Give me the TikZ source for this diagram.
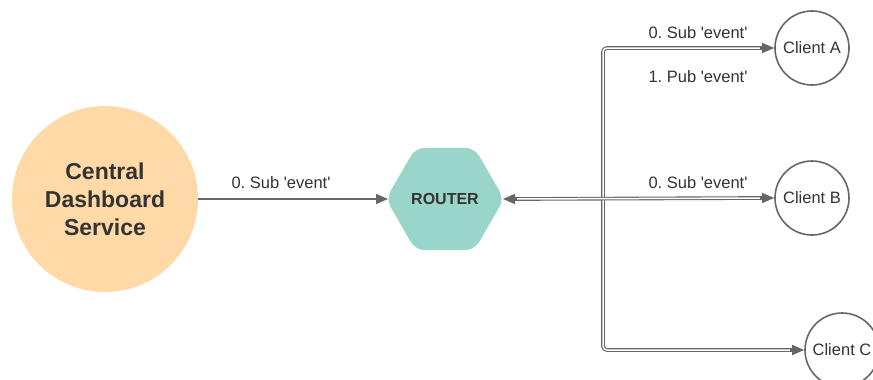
\documentclass[tikz,border=0pt]{standalone}
\usepackage{fontspec}
\setmainfont{Liberation Sans}
\usetikzlibrary{arrows.meta,shapes.geometric}
\definecolor{lineg}{HTML}{666666}
\definecolor{txtg}{HTML}{333333}
\definecolor{peach}{HTML}{FFD9A6}
\definecolor{teal}{HTML}{9AD5CA}
\tikzset{
  lbl/.style={font=\fontsize{16.5}{19}\selectfont, text=txtg, inner sep=0pt},
  client/.style={circle, draw=lineg, line width=1.6pt, minimum size=74pt, inner sep=0pt, font=\fontsize{16.5}{19}\selectfont, text=txtg},
  dbl/.style={draw=lineg, line width=1.1pt, double=white, double distance=1.5pt, rounded corners=4pt},
  tipline/.style={lineg, line width=1.2pt, -{Triangle[length=12pt,width=10pt]}},
}
\begin{document}
\frenchspacing
\begin{tikzpicture}[x=1pt,y=-1pt]
\useasboundingbox (0,0) rectangle (873,380);
\fill[white] (0,0) rectangle (873,380);
% central
\node[circle, fill=peach, minimum size=186pt, inner sep=0pt, align=center,
  font=\bfseries\fontsize{23}{28}\selectfont, text=txtg] (cds) at (105,199) {Central\\Dashboard\\Service};
% router
\node[regular polygon, regular polygon sides=6, fill=teal, minimum size=118pt, inner sep=0pt, rounded corners=9pt] (router) at (445,199) {};
\node[font=\bfseries\fontsize{16}{19}\selectfont, text=txtg] (rlabel) at (445,199) {ROUTER};
% clients
\node[client] (ca) at (812,48) {Client A};
\node[client] (cb) at (812,198) {Client B};
\node[client] (cc) at (842,350) {Client C};
\coordinate (j) at (603,199);
% central -> router
\draw[tipline] (cds.east) -- (388,199);
\node[lbl] (l1) at (281,183) {0. Sub \textquotesingle event\textquotesingle};
% double connectors
\draw[dbl] ([xshift=-12pt]ca.west) -| (j) |- ([xshift=-12pt]cc.west);
\draw[dbl] (515,199) -- ([xshift=-12pt]cb.west);
% arrow tips
\draw[tipline] ([xshift=-14pt]ca.west) -- (ca.west);
\draw[tipline] ([xshift=-14pt]cb.west) -- (cb.west);
\draw[tipline] ([xshift=-14pt]cc.west) -- (cc.west);
\draw[tipline] (517,199) -- (503,199);
% labels
\node[lbl] (l2) at (698,33) {0. Sub \textquotesingle event\textquotesingle};
\node[lbl] (l3) at (698,77) {1. Pub \textquotesingle event\textquotesingle};
\node[lbl] (l4) at (698,183) {0. Sub \textquotesingle event\textquotesingle};
\end{tikzpicture}
\end{document}
